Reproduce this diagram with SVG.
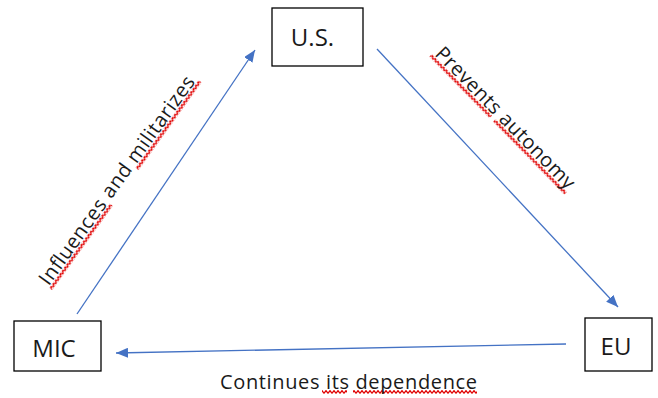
<svg xmlns="http://www.w3.org/2000/svg" width="658" height="398" viewBox="0 0 658 398">
<style>
.box{fill:#fff;stroke:#000;stroke-width:1.3}
.lbl{font-family:"Open Sans","Liberation Sans",sans-serif;font-size:24px;fill:#1a1a1a;text-anchor:middle}
.elbl{font-family:"Open Sans","Liberation Sans",sans-serif;font-size:20px;fill:#1a1a1a}
.conn{stroke:#4472C4;stroke-width:1.3;fill:none;marker-end:url(#ah)}
.sq{fill:url(#wave)}
</style>
<defs>
<marker id="ah" viewBox="0 0 12 10" refX="12" refY="5" markerWidth="12" markerHeight="10" markerUnits="userSpaceOnUse" orient="auto">
<path d="M0,0 L12,5 L0,10 z" fill="#4472C4"/>
</marker>
<pattern id="wave" width="4" height="4" patternUnits="userSpaceOnUse">
<path d="M0,3.4 L2,0.6 L4,3.4" stroke="#e00000" stroke-width="1.2" fill="none"/>
</pattern>
</defs>
<rect width="658" height="398" fill="#fff"/>
<g id="connectors">
<line class="conn" x1="77" y1="314" x2="255" y2="50"/>
<line class="conn" x1="377" y1="49" x2="618" y2="307"/>
<line class="conn" x1="566" y1="344" x2="116" y2="353"/>
</g>
<g id="node-us">
<rect class="box" x="272" y="8" width="91" height="58"/>
<text class="lbl" x="312.5" y="46">U.S.</text>
</g>
<g id="node-mic">
<rect class="box" x="14" y="321" width="87" height="50"/>
<text class="lbl" x="54" y="357">MIC</text>
</g>
<g id="node-eu">
<rect class="box" x="585" y="318" width="67" height="53"/>
<text class="lbl" x="616" y="355">EU</text>
</g>
<g id="label-influences" transform="translate(49,288) rotate(-54.3)">
<rect class="sq" x="0" y="0" width="104" height="4"/>
<rect class="sq" x="148" y="0" width="108" height="4"/>
<text class="elbl" x="1" y="-1" textLength="252">Influences and militarizes</text>
</g>
<g id="label-prevents" transform="translate(432,54) rotate(45.6)">
<rect class="sq" x="0" y="0" width="86" height="4"/>
<rect class="sq" x="91" y="0" width="102" height="4"/>
<text class="elbl" x="2" y="-1" textLength="190">Prevents autonomy</text>
</g>
<g id="label-continues" transform="translate(0,390)">
<rect class="sq" x="322" y="0" width="25" height="4"/>
<rect class="sq" x="353" y="0" width="124" height="4"/>
<text class="elbl" x="220" y="-1" textLength="257">Continues its dependence</text>
</g>
</svg>
